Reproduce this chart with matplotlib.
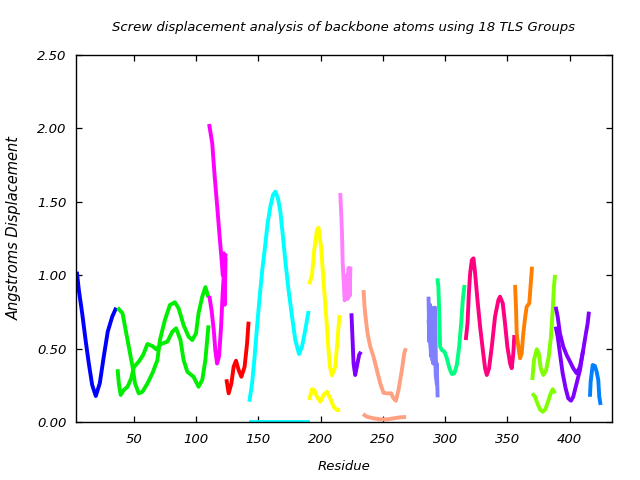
import matplotlib
matplotlib.use("Agg")
import matplotlib.pyplot as plt
from matplotlib.ticker import FormatStrFormatter

# ---- data: (residue, displacement) ----
blue_res = [4.3, 5.9, 8.6, 11.3, 13.9, 16.6, 19.5, 22.7, 25.9, 29.1, 32.7, 35.9]
blue_val = [1.025, 0.90, 0.74, 0.56, 0.40, 0.254, 0.179, 0.265, 0.447, 0.617, 0.719, 0.78]

green1_res = [37, 41, 43, 46, 49, 51, 54, 57, 61, 65, 69, 71, 75, 79, 83, 86, 90, 94, 97, 100, 102, 105, 107.5, 110]
green1_val = [0.78, 0.742, 0.65, 0.515, 0.379, 0.265, 0.197, 0.208, 0.265, 0.334, 0.424, 0.56, 0.696, 0.798,
              0.817, 0.776, 0.662, 0.583, 0.56, 0.606, 0.742, 0.855, 0.92, 0.85]
green2_res = [37, 38, 39.5, 42, 45, 48, 50, 54, 57.5, 61, 65, 68, 72, 77, 81, 84, 87.5, 90, 93, 98, 102, 105, 107.5, 110]
green2_val = [0.361, 0.265, 0.186, 0.22, 0.242, 0.30, 0.374, 0.413, 0.458, 0.533, 0.519, 0.497, 0.533, 0.549,
              0.617, 0.64, 0.56, 0.424, 0.344, 0.31, 0.242, 0.288, 0.424, 0.66]

magenta1_res = [110.5, 113, 115, 117, 118.7, 120.3, 121.5, 122.3, 123, 123.7]
magenta1_val = [2.03, 1.90, 1.67, 1.47, 1.29, 1.13, 1.00, 1.15, 0.80, 1.12]
magenta2_res = [110.7, 112.5, 114.2, 115.5, 116.9, 118.5, 120.1, 121.4, 123.0, 123.8]
magenta2_val = [0.86, 0.76, 0.63, 0.49, 0.40, 0.45, 0.65, 0.88, 1.10, 1.15]

red_res = [124.4, 126.2, 128.4, 130.2, 132.1, 134.2, 136.4, 139.0, 141.0, 142.2]
red_val = [0.293, 0.197, 0.265, 0.378, 0.419, 0.356, 0.31, 0.378, 0.538, 0.685]

cyan1_res = [142.8, 145.0, 146.8, 149.0, 151.1, 153.2, 155.4, 157.5, 159.7, 161.8, 163.7, 165.8, 167.7,
             169.8, 171.9, 174.3, 177.1, 179.7, 182.7, 185.1, 187.7, 190.4]
cyan1_val = [0.14, 0.265, 0.424, 0.651, 0.855, 1.037, 1.195, 1.355, 1.468, 1.547, 1.57, 1.525, 1.434,
             1.263, 1.082, 0.90, 0.719, 0.56, 0.465, 0.515, 0.628, 0.758]
cyan2_res = [142.2, 191.7]
cyan2_val = [0.005, 0.005]

yellow1_res = [190.9, 193.1, 194.9, 197.1, 198.4, 200.3, 202.4, 204.6, 206.4, 207.5, 209.1, 211.8, 213.6, 215.2]
yellow1_val = [0.94, 1.0, 1.17, 1.31, 1.325, 1.2, 0.96, 0.71, 0.49, 0.38, 0.32, 0.378, 0.56, 0.73]
yellow2_res = [190.9, 193.1, 194.9, 197.1, 199.8, 202.4, 205.1, 207.8, 210.4, 213.1, 215.8]
yellow2_val = [0.152, 0.225, 0.22, 0.174, 0.14, 0.186, 0.208, 0.163, 0.106, 0.084, 0.084]

pink_res = [215.8, 216.6, 217.2, 217.7, 218.5, 219.3, 220.2, 221.0, 221.8, 222.5, 223.3, 224.0]
pink_val = [1.56, 1.42, 1.29, 1.1, 0.97, 0.83, 0.85, 1.0, 0.84, 1.05, 0.86, 1.06]

violet1_res = [224.8, 225.7, 226.5, 227.8, 229.4, 231.0, 232.5]
violet1_val = [0.742, 0.56, 0.40, 0.322, 0.39, 0.46, 0.48]

salmon1_res = [234.5, 235.3, 236.4, 237.7, 239.9, 242.5, 245.2, 247.9, 250.5, 253.7, 256.7, 258.6,
               260.5, 262.6, 265.3, 267.2, 268.5]
salmon1_val = [0.90, 0.787, 0.696, 0.606, 0.515, 0.447, 0.356, 0.265, 0.201, 0.197, 0.197, 0.163,
               0.147, 0.22, 0.356, 0.47, 0.504]
salmon2_res = [234, 237.2, 242.6, 247.9, 253.3, 258.6, 263.9, 268.7]
salmon2_val = [0.056, 0.038, 0.027, 0.02, 0.02, 0.027, 0.034, 0.036]

peri1_res = [286.7, 287.3, 287.9, 288.6, 289.2, 289.9, 290.6, 291.3, 292.0, 292.7, 293.3, 294.0]
peri1_val = [0.855, 0.55, 0.80, 0.45, 0.74, 0.42, 0.78, 0.55, 0.78, 0.34, 0.40, 0.17]
peri2_res = [286.7, 287.5, 288.5, 289.5, 290.5, 291.5, 292.5, 293.5]
peri2_val = [0.70, 0.60, 0.50, 0.62, 0.40, 0.60, 0.32, 0.25]

spring_res = [293.8, 294.6, 295.4, 296.0, 297.4, 299.5, 301.4, 303.5, 305.4, 307.5, 309.4, 311.3, 312.9, 314.2, 315.6]
spring_val = [0.98, 0.923, 0.719, 0.515, 0.492, 0.48, 0.436, 0.368, 0.329, 0.334, 0.39, 0.515, 0.674, 0.833, 0.935]

rose_res = [316.6, 318.0, 319.1, 320.1, 321.5, 322.8, 324.1, 326.0, 328.1, 330.3, 332.1, 333.5, 335.3,
            337.5, 340.1, 342.8, 344.1, 346.3, 348.1, 350.0, 352.2, 353.5, 354.8, 355.6]
rose_val = [0.56, 0.674, 0.878, 1.014, 1.105, 1.116, 1.014, 0.833, 0.651, 0.492, 0.368, 0.322, 0.368,
            0.515, 0.719, 0.833, 0.855, 0.81, 0.674, 0.515, 0.40, 0.368, 0.47, 0.594]

orange_res = [356.2, 357.0, 357.5, 358.8, 360.2, 361.5, 362.8, 364.2, 365.5, 367.6, 368.8, 369.8]
orange_val = [0.935, 0.764, 0.606, 0.515, 0.436, 0.47, 0.606, 0.708, 0.787, 0.81, 0.946, 1.059]

chart1_res = [370.0, 371.4, 373.6, 375.2, 376.8, 378.9, 381.0, 383.2, 385.0, 386.4, 387.4, 388.3]
chart1_val = [0.288, 0.424, 0.497, 0.47, 0.368, 0.322, 0.351, 0.447, 0.583, 0.764, 0.923, 1.003]
chart2_res = [370.0, 372.2, 374.1, 376.2, 378.4, 380.5, 382.6, 384.8, 386.4, 388.3]
chart2_val = [0.197, 0.174, 0.129, 0.088, 0.072, 0.088, 0.14, 0.197, 0.225, 0.197]

violet2_res = [388.8, 390.4, 392.2, 394.9, 397.6, 400.3, 402.9, 405.6, 408.3, 410.9, 413.1, 414.5, 415.5]
violet2_val = [0.787, 0.719, 0.606, 0.515, 0.458, 0.413, 0.368, 0.334, 0.378, 0.492, 0.606, 0.674, 0.753]
violet3_res = [388.8, 390.4, 392.2, 394.4, 396.8, 398.9, 401.1, 402.9, 405.6, 408.3, 410.9]
violet3_val = [0.651, 0.583, 0.47, 0.334, 0.231, 0.163, 0.147, 0.174, 0.265, 0.356, 0.492]

azure_res = [416.3, 416.9, 418.5, 420.3, 421.7, 423.0, 423.8, 424.9]
azure_val = [0.174, 0.277, 0.39, 0.383, 0.344, 0.288, 0.174, 0.118]

x_ticks = [50, 100, 150, 200, 250, 300, 350, 400]
y_ticks = [0.0, 0.5, 1.0, 1.5, 2.0, 2.5]

series = [
    (blue_res, blue_val, "#0000ff"),
    (green1_res, green1_val, "#00ee00"),
    (green2_res, green2_val, "#00ee00"),
    (magenta1_res, magenta1_val, "#ff00ff"),
    (magenta2_res, magenta2_val, "#ff00ff"),
    (red_res, red_val, "#ff0000"),
    (cyan1_res, cyan1_val, "#00ffff"),
    (cyan2_res, cyan2_val, "#00ffff"),
    (yellow1_res, yellow1_val, "#ffff00"),
    (yellow2_res, yellow2_val, "#ffff00"),
    (pink_res, pink_val, "#ff80ff"),
    (violet1_res, violet1_val, "#8000ff"),
    (salmon1_res, salmon1_val, "#ffa080"),
    (salmon2_res, salmon2_val, "#ffa080"),
    (peri1_res, peri1_val, "#8080ff"),
    (peri2_res, peri2_val, "#8080ff"),
    (spring_res, spring_val, "#00ff80"),
    (rose_res, rose_val, "#ff0080"),
    (orange_res, orange_val, "#ff8000"),
    (chart1_res, chart1_val, "#80ff00"),
    (chart2_res, chart2_val, "#80ff00"),
    (violet2_res, violet2_val, "#8000ff"),
    (violet3_res, violet3_val, "#8000ff"),
    (azure_res, azure_val, "#0080ff"),
]

font = dict(family="DejaVu Sans", style="italic", size=9.5)

fig = plt.figure(figsize=(6.4, 4.8), dpi=100)
ax = fig.add_axes([0.1195, 0.1202, 0.8367, 0.7652])

for xs, ys, c in series:
    ax.plot(xs, ys, color=c, linewidth=2.8, solid_joinstyle="round", solid_capstyle="butt")

ax.set_xlim(4, 434)
ax.set_ylim(0, 2.5)
ax.set_xticks(x_ticks)
ax.set_yticks(y_ticks)
ax.yaxis.set_major_formatter(FormatStrFormatter("%.2f"))
ax.tick_params(direction="in", length=4, width=0.9, top=True, right=True, labelsize=9.5)
ax.tick_params(axis="y", pad=7)
ax.tick_params(axis="x", pad=8)
for lab in ax.get_xticklabels() + ax.get_yticklabels():
    lab.set_fontstyle("italic")
for s in ax.spines.values():
    s.set_linewidth(1.0)

fig.text(0.5375, 1 - 27 / 480, "Screw displacement analysis of backbone atoms using 18 TLS Groups",
         ha="center", va="center", **font)
fig.text(0.5375, 1 - 467 / 480, "Residue", ha="center", va="center", **font)
fig.text(14 / 640, 1 - 228 / 480, "Angstroms Displacement", ha="center", va="center", rotation=90,
         family="DejaVu Sans", style="italic", size=10.5)

fig.savefig("out.png", dpi=100)
